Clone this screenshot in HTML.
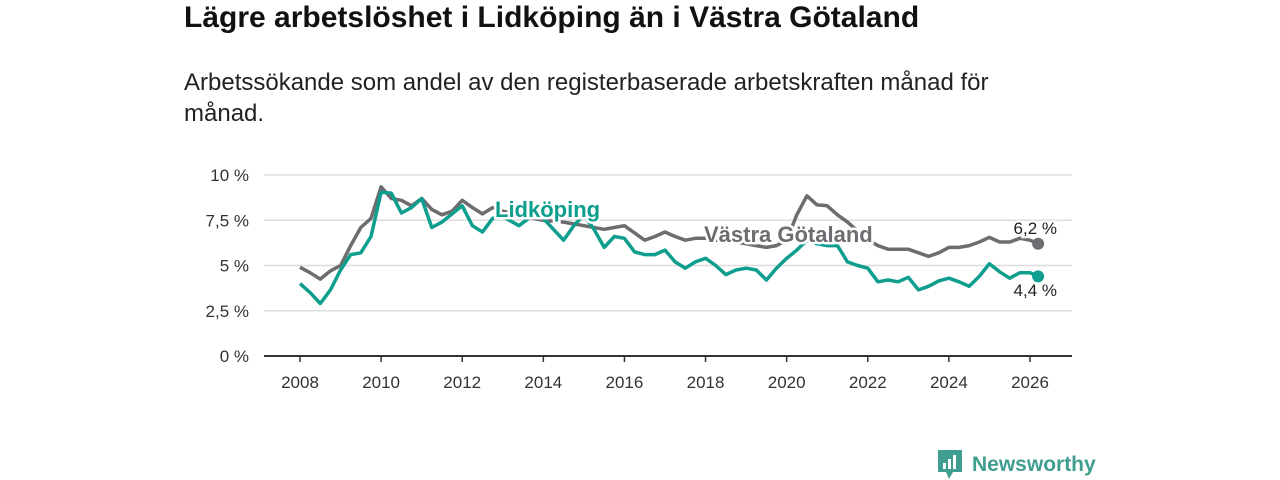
<!DOCTYPE html>
<html><head><meta charset="utf-8"><style>
body{margin:0;width:1280px;height:480px;background:#fff;font-family:"Liberation Sans","DejaVu Sans",sans-serif;overflow:hidden;position:relative}
h1{position:absolute;left:184px;top:1px;margin:0;font-size:30px;font-weight:bold;color:#111;white-space:nowrap}
.sub{position:absolute;left:184px;top:67px;margin:0;font-size:24px;line-height:31px;color:#222;width:860px}
svg{position:absolute;left:0;top:0}
</style></head><body>
<h1>Lägre arbetslöshet i Lidköping än i Västra Götaland</h1>
<p class="sub">Arbetssökande som andel av den registerbaserade arbetskraften månad för månad.</p>
<svg id="c" width="1280" height="480"></svg>
<script>
const dates=[2008,2008.25,2008.5,2008.75,2009,2009.25,2009.5,2009.75,2010,2010.25,2010.5,2010.75,2011,2011.25,2011.5,2011.75,2012,2012.25,2012.5,2012.75,2013,2013.4,2013.75,2014,2014.5,2014.75,2015,2015.25,2015.5,2015.75,2016,2016.25,2016.5,2016.75,2017,2017.25,2017.5,2017.75,2018,2018.25,2018.5,2018.75,2019,2019.25,2019.5,2019.75,2020,2020.25,2020.5,2020.75,2021,2021.25,2021.5,2021.75,2022,2022.25,2022.5,2022.75,2023,2023.25,2023.5,2023.75,2024,2024.25,2024.5,2024.75,2025,2025.25,2025.5,2025.75,2026,2026.2];
const vgValues=[4.9,4.6,4.25,4.7,5.0,6.1,7.1,7.6,9.35,8.7,8.6,8.3,8.7,8.1,7.8,8.0,8.6,8.2,7.85,8.2,8.0,7.8,7.6,7.5,7.4,7.3,7.2,7.1,7.0,7.1,7.2,6.8,6.4,6.6,6.85,6.6,6.4,6.5,6.5,6.4,6.4,6.3,6.2,6.1,6.0,6.1,6.4,7.8,8.85,8.35,8.3,7.8,7.4,6.9,6.4,6.1,5.9,5.9,5.9,5.7,5.5,5.7,6.0,6.0,6.1,6.3,6.55,6.3,6.3,6.5,6.4,6.2];
const ldValues=[4.0,3.5,2.9,3.65,4.75,5.6,5.7,6.6,9.05,9.0,7.9,8.2,8.7,7.1,7.4,7.85,8.3,7.2,6.85,7.6,7.7,7.2,7.8,7.6,6.4,7.2,7.8,7.0,6.0,6.6,6.5,5.75,5.6,5.6,5.85,5.2,4.85,5.2,5.4,5.0,4.5,4.75,4.85,4.75,4.2,4.85,5.4,5.85,6.4,6.2,6.1,6.1,5.2,5.0,4.85,4.1,4.2,4.1,4.35,3.65,3.85,4.15,4.3,4.1,3.85,4.4,5.1,4.65,4.3,4.6,4.6,4.4];
const yTicks=[0,2.5,5,7.5,10];
const yTickLabels=["0 %","2,5 %","5 %","7,5 %","10 %"];
const xTicks=[2008,2010,2012,2014,2016,2018,2020,2022,2024,2026];
const NS="http://www.w3.org/2000/svg";
const svg=document.getElementById('c');
const X=v=>300+(v-2008)*(730/18);
const Y=v=>356-v*18.1;
function mk(t,a,p){const e=document.createElementNS(NS,t);for(const k in a)e.setAttribute(k,a[k]);(p||svg).appendChild(e);return e;}
yTicks.forEach((t,i)=>{
 const g=mk('line',{x1:264,x2:1072,y1:Y(t),y2:Y(t),stroke:t==0?'#333':'#ddd','stroke-width':t==0?2:1.5});
 
 
 const l=mk('text',{x:249,y:Y(t)+6,'text-anchor':'end','font-size':17,fill:'#333'});l.textContent=yTickLabels[i];
 
 
});
xTicks.forEach(t=>{
 const k=mk('line',{x1:X(t),x2:X(t),y1:356,y2:362,stroke:'#333','stroke-width':1.5});
 
 
 const l=mk('text',{x:X(t),y:388,'text-anchor':'middle','font-size':17,fill:'#333'});l.textContent=t;
 
 
});
function line(vals,col,name){
 const p=mk('path',{d:vals.map((v,i)=>(i?'L':'M')+X(dates[i]).toFixed(1)+','+Y(v).toFixed(1)).join(''),fill:'none',stroke:col,'stroke-width':3.5,'stroke-linejoin':'round'});
 
 
 const n=vals.length-1;
 const c=mk('circle',{cx:X(dates[n]),cy:Y(vals[n]),r:6,fill:col});
 
 
}
line(vgValues,'#6e6c70','vastra-gotaland-line');
line(ldValues,'#0e9e8e','lidkoping-line');
function lab(x,y,txt,col,sz,bold,anchor,name){
 const t=mk('text',{x:x,y:y,'font-size':sz,'font-weight':bold?'bold':'normal',fill:col,stroke:'#fff','stroke-width':bold?5:4,'paint-order':'stroke','text-anchor':anchor||'start'});
 t.textContent=txt;
 
 
}
lab(495,217,'Lidköping','#0e9e8e',22,true,'start','lidkoping-label');
lab(704,242,'Västra Götaland','#6e6c70',22,true,'start','vastra-gotaland-label');
lab(1057,234,'6,2 %','#222',17,false,'end','vg-end-value');
lab(1057,296,'4,4 %','#222',17,false,'end','ld-end-value');
</script>
<div style="position:absolute;left:938px;top:450px;display:flex;align-items:center">
<svg width="24" height="30" style="position:static"><path d="M0 0H24V22H15L11 29L8 22H0Z" fill="#3f9e90"/><rect x="5" y="13" width="3" height="6" fill="#fff"/><rect x="10" y="9" width="3" height="10" fill="#fff"/><rect x="15" y="5" width="3" height="14" fill="#fff"/></svg>
<span style="margin-left:10px;font-size:21px;font-weight:bold;color:#3f9e90">Newsworthy</span></div>
</body></html>
